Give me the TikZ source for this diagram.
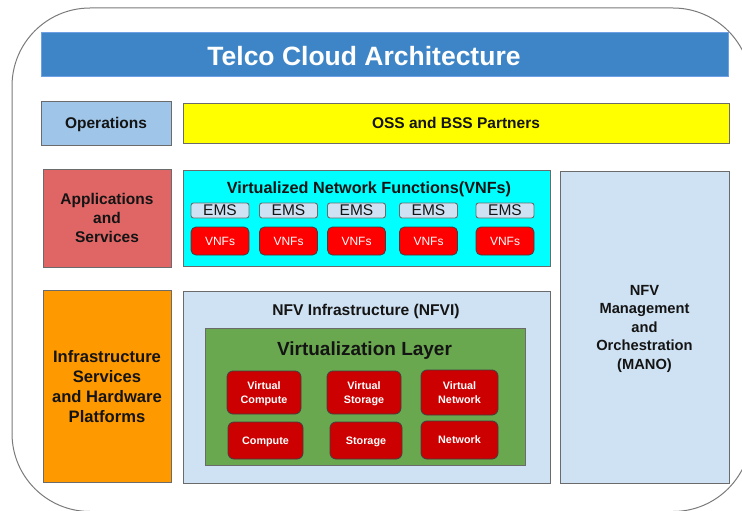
\documentclass[tikz,border=0pt]{standalone}
\usepackage{fontspec}
\setmainfont{Liberation Sans}
\definecolor{frameline}{HTML}{7A7A7A}
\definecolor{boxline}{HTML}{6B6B6B}
\definecolor{titleblue}{HTML}{3D85C6}
\definecolor{titleedge}{HTML}{6FA0E6}
\definecolor{opsblue}{HTML}{9FC5E8}
\definecolor{paleblue}{HTML}{CFE2F3}
\definecolor{ossyellow}{HTML}{FFFF00}
\definecolor{appred}{HTML}{E06666}
\definecolor{vnfcyan}{HTML}{00FFFF}
\definecolor{infraorange}{HTML}{FF9900}
\definecolor{layergreen}{HTML}{6AA84F}
\definecolor{vnfred}{HTML}{FF0000}
\definecolor{resred}{HTML}{CC0000}
\definecolor{inktext}{HTML}{141414}
\newcommand{\fs}[1]{\fontsize{#1}{#1}\selectfont}
\tikzset{
  panel/.style={draw=boxline, line width=0.9pt, inner sep=0pt, align=center, text=inktext, text depth=0pt},
  label/.style={inner sep=0pt, align=center, text=inktext, text depth=0pt},
  emsbox/.style={draw=boxline, line width=0.9pt, inner sep=0pt, text=inktext,
    fill=paleblue, rounded corners=2.5pt, minimum width=58pt, minimum height=15pt, font=\fs{15.5}},
  vnfbox/.style={draw=black!75, line width=0.8pt, fill=vnfred, rounded corners=5pt, inner sep=0pt,
    minimum width=58pt, minimum height=28pt, text=white, font=\fs{12}, text depth=0pt},
  resbox/.style={draw=black!75, line width=0.8pt, fill=resred, rounded corners=6pt, inner sep=0pt,
    align=center, text=white, text depth=0pt, font=\bfseries\fontsize{10.8}{14}\selectfont},
}
\begin{document}
\begin{tikzpicture}[x=1pt, y=-1pt]
\useasboundingbox (0,0) rectangle (742,511);

% outer frame
\draw[frameline, line width=1pt, rounded corners=78pt] (12,8) rectangle (751,511.5);

% title bar
\node[draw=titleedge, line width=0.8pt, fill=titleblue, minimum width=687pt, minimum height=44pt, inner sep=0pt]
  (bar) at (384.5,54) {};
\node[inner sep=0pt, text=white, text depth=0pt, font=\bfseries\fs{26.5}] (title) at (364,55.5) {Telco Cloud Architecture};

% top row
\node[panel, fill=opsblue, minimum width=130pt, minimum height=44pt, font=\bfseries\fs{15.5}]
  (ops) at (106,123) {Operations};
\node[panel, fill=ossyellow, minimum width=546pt, minimum height=40pt, font=\bfseries\fs{15.5}]
  (oss) at (456,123) {OSS and BSS Partners};

% applications row
\node[panel, fill=appred, minimum width=128pt, minimum height=98pt, font=\bfseries\fontsize{15.5}{19}\selectfont]
  (apps) at (107,218) {Applications\\and\\Services};
\node[panel, fill=vnfcyan, minimum width=367pt, minimum height=96pt] (vnf) at (366.5,218) {};
\node[label, font=\bfseries\fs{16.2}] (vnftitle) at (369,187.5) {Virtualized Network Functions(VNFs)};

\node[emsbox] (ems1) at (220,210.5) {EMS};
\node[emsbox] (ems2) at (288.5,210.5) {EMS};
\node[emsbox] (ems3) at (356.5,210.5) {EMS};
\node[emsbox] (ems4) at (428.5,210.5) {EMS};
\node[emsbox] (ems5) at (505,210.5) {EMS};

\node[vnfbox] (vnf1) at (220,241) {VNFs};
\node[vnfbox] (vnf2) at (288.5,241) {VNFs};
\node[vnfbox] (vnf3) at (356.5,241) {VNFs};
\node[vnfbox] (vnf4) at (428.5,241) {VNFs};
\node[vnfbox] (vnf5) at (505,241) {VNFs};

% management and orchestration column
\node[panel, fill=paleblue, minimum width=169pt, minimum height=312pt, font=\bfseries\fontsize{14.7}{18.5}\selectfont]
  (mano) at (644.5,327) {NFV\\Management\\and\\Orchestration\\(MANO)};

% infrastructure row
\node[panel, fill=infraorange, minimum width=128pt, minimum height=192pt, font=\bfseries\fontsize{16.6}{20.2}\selectfont]
  (infra) at (107,386.5) {Infrastructure\\Services\\and Hardware\\Platforms};
\node[panel, fill=paleblue, minimum width=367pt, minimum height=192pt] (nfvi) at (366.5,387) {};
\node[label, font=\bfseries\fs{15.6}] (nfvititle) at (366,309.5) {NFV Infrastructure (NFVI)};

\node[panel, fill=layergreen, minimum width=320pt, minimum height=137pt] (layer) at (365,396.5) {};
\node[label, font=\bfseries\fs{19}] (layertitle) at (364.5,349) {Virtualization Layer};

\node[resbox, minimum width=74pt, minimum height=43pt] (vcompute) at (264,392.5) {Virtual\\Compute};
\node[resbox, minimum width=74pt, minimum height=43pt] (vstorage) at (364,392.5) {Virtual\\Storage};
\node[resbox, minimum width=77pt, minimum height=45pt] (vnetwork) at (459.5,392.5) {Virtual\\Network};
\node[resbox, minimum width=75pt, minimum height=37pt] (compute) at (265.5,440.5) {Compute};
\node[resbox, minimum width=72pt, minimum height=37pt] (storage) at (366,440.5) {Storage};
\node[resbox, minimum width=77pt, minimum height=38pt] (network) at (459.5,440) {Network};
\end{tikzpicture}
\end{document}
